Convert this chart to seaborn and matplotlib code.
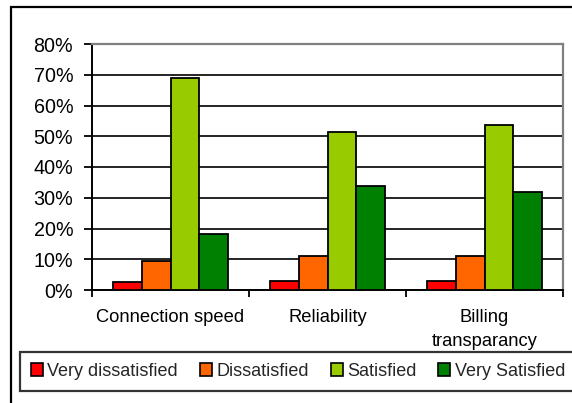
import matplotlib
matplotlib.use("Agg")
import matplotlib.pyplot as plt
from matplotlib.patches import Rectangle, Patch
import pandas as pd
import seaborn as sns

# Survey results: share of respondents per satisfaction level (%)
aspects = ["Connection speed", "Reliability", "Billing\ntransparancy"]
ratings = ["Very dissatisfied", "Dissatisfied", "Satisfied", "Very Satisfied"]
very_dissatisfied = [2.7, 3.0, 3.0]
dissatisfied = [9.5, 11.1, 10.9]
satisfied = [68.9, 51.4, 53.5]
very_satisfied = [18.3, 33.8, 32.0]
y_ticks = [0, 10, 20, 30, 40, 50, 60, 70, 80]
y_tick_labels = ["0%", "10%", "20%", "30%", "40%", "50%", "60%", "70%", "80%"]

colors = ["#FF0000", "#FF6600", "#99CC00", "#008000"]

series = [very_dissatisfied, dissatisfied, satisfied, very_satisfied]
rows = []
for rating, values in zip(ratings, series):
    for aspect, v in zip(aspects, values):
        rows.append({"aspect": aspect, "rating": rating, "share": v})
df = pd.DataFrame(rows)

sns.set_theme(style="white")
plt.rcParams["font.family"] = ["Liberation Sans", "DejaVu Sans"]

W, H = 572, 403
fig = plt.figure(figsize=(W / 100, H / 100), dpi=100)
left, right, top, bottom = 92, 563, 44, 290
ax = fig.add_axes([left / W, 1 - bottom / H, (right - left) / W, (bottom - top) / H])

sns.barplot(data=df, x="aspect", y="share", hue="rating", order=aspects,
            hue_order=ratings, palette=colors, width=0.73, edgecolor="black",
            linewidth=1.3, saturation=1, legend=False, ax=ax, zorder=3)

ax.set_xlim(-0.5, 2.5)
ax.set_ylim(0, 80)
ax.set_yticks(y_ticks)
ax.set_yticklabels(y_tick_labels, fontsize=14.2)
ax.set_xticks(range(len(aspects)))
ax.set_xticklabels(aspects, fontsize=13.2)
for t in ax.get_xticklabels():
    t.set_linespacing(1.5)
ax.set_xticks([-0.5, 0.5, 1.5, 2.5], minor=True)
ax.tick_params(axis="x", which="major", length=0, pad=14, colors="black")
ax.tick_params(axis="x", which="minor", length=5, width=1.3, direction="out",
               bottom=True, color="black")
ax.tick_params(axis="y", length=6, width=1.3, direction="out", left=True,
               pad=7.5, colors="black")
ax.set_xlabel("")
ax.set_ylabel("")

ax.yaxis.grid(True, color="black", linewidth=1.2, zorder=0)
ax.set_axisbelow(True)
for side in ("left", "bottom"):
    ax.spines[side].set_color("black")
    ax.spines[side].set_linewidth(1.4)
for side in ("top", "right"):
    ax.spines[side].set_visible(True)
    ax.spines[side].set_color("#808080")
    ax.spines[side].set_linewidth(1.6)

# Legend row below the plot
handles = [Patch(facecolor=c, edgecolor="black", linewidth=1.2) for c in colors]
leg = fig.legend(handles, ratings, loc="upper left", ncol=4,
                 bbox_to_anchor=(20 / W, 1 - 352 / H), fontsize=13,
                 frameon=True, fancybox=False, edgecolor="black",
                 handlelength=0.67, handleheight=0.67, handletextpad=0.25,
                 columnspacing=1.2, borderpad=0.6, borderaxespad=0)
leg.get_frame().set_linewidth(1.6)

# Chart outer frame
fig.patches.append(Rectangle((11 / W, -0.05), 1.1, 1 - 7 / H + 0.05,
                             transform=fig.transFigure, fill=False,
                             edgecolor="black", linewidth=1.6, clip_on=False))

fig.savefig("out.png", dpi=100)
